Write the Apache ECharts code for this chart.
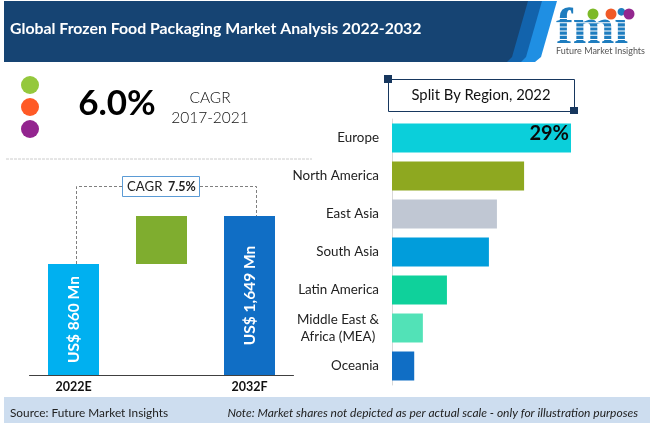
<!DOCTYPE html>
<html>
<head>
<meta charset="utf-8">
<style>html,body{margin:0;padding:0;background:#fff}#main{width:650px;height:423px}</style>
<script src="https://cdn.jsdelivr.net/npm/echarts@6/dist/echarts.min.js"></script>
</head>
<body>
<div id="main"></div>
<script>
// right panel
var regions = ['Europe', 'North America', 'East Asia', 'South Asia', 'Latin America', 'Middle East &\nAfrica (MEA)', 'Oceania'];
var regionShares = [29, 21.4, 17, 15.7, 8.9, 5, 3.6];
var regionColors = ['#0BCFDA', '#8EA820', '#C0C7D3', '#019DDB', '#0FD19B', '#52E2B7', '#106EC5'];
var regionLabels = ['29%', '', '', '', '', '', ''];
// left panel, the source bars are not to scale so these are the drawn heights
var years = ['2022E', '', '2032F'];
var barBase = [0, 860, 0];
var barValues = [860, 372, 1232];
var barColors = ['#00B0F0', '#7FAD2F', '#106EC5'];
var barLabels = ['US$ 860 Mn', '', 'US$ 1,649 Mn'];

var font = 'Lato, sans-serif';
var myChart = echarts.init(document.getElementById('main'), null, {renderer: 'canvas'});

var logoStripes = [];
for (var i = 0; i < 7; i++) {
    logoStripes.push({type: 'rect', z: 12, shape: {x: 555, y: 18 + i * 4.2, width: 90, height: 1}, style: {fill: '#fff'}});
}

myChart.setOption({
    animation: false,
    grid: [
        {left: 29.5, top: 216, width: 264, height: 159},
        {left: 392, top: 119, width: 179, height: 266}
    ],
    xAxis: [
        {
            gridIndex: 0, type: 'category', data: years,
            axisLine: {lineStyle: {color: '#404040', width: 1}},
            axisTick: {show: false},
            axisLabel: {color: '#111', fontFamily: font, fontWeight: 'bold', fontSize: 12.5, margin: 5, interval: 0}
        },
        {gridIndex: 1, type: 'value', min: 0, max: 29, show: false}
    ],
    yAxis: [
        {gridIndex: 0, type: 'value', min: 0, max: 1232, show: false},
        {
            gridIndex: 1, type: 'category', data: regions, inverse: true,
            axisLine: {lineStyle: {color: '#D9D9D9', width: 1}},
            axisTick: {lineStyle: {color: '#D9D9D9'}, length: 4},
            axisLabel: {
                color: '#222', fontFamily: font, fontSize: 13.4, margin: 13, lineHeight: 17, align: 'right', interval: 0,
                formatter: function (v) {
                    if (v.indexOf('\n') < 0) return v;
                    return v.split('\n').map(function (s) { return '{c|' + s + '}'; }).join('\n');
                },
                rich: {c: {width: 82, align: 'center', fontFamily: font, fontSize: 13.4, lineHeight: 17, color: '#222'}}
            }
        }
    ],
    series: [
        {
            type: 'bar', xAxisIndex: 0, yAxisIndex: 0, stack: 'a', barWidth: 51, silent: true,
            itemStyle: {color: 'transparent'},
            data: barBase
        },
        {
            type: 'bar', xAxisIndex: 0, yAxisIndex: 0, stack: 'a', barWidth: 51,
            data: barValues.map(function (v, i) {
                return {
                    value: v,
                    itemStyle: {color: barColors[i]},
                    label: {
                        show: barLabels[i] !== '', formatter: barLabels[i], rotate: 90,
                        position: 'inside', color: '#fff', fontFamily: font, fontWeight: 'bold', fontSize: 15.5
                    }
                };
            })
        },
        {
            type: 'bar', xAxisIndex: 1, yAxisIndex: 1, barWidth: 29,
            data: regionShares.map(function (v, i) {
                return {
                    value: v,
                    itemStyle: {color: regionColors[i]},
                    label: {
                        show: regionLabels[i] !== '', formatter: regionLabels[i], position: 'insideRight',
                        distance: 2, offset: [0, -4], color: '#0a0a0a', fontFamily: font, fontWeight: 'bold', fontSize: 20
                    }
                };
            })
        }
    ],
    graphic: [
        // header band
        {type: 'polygon', z: 2, shape: {points: [[4, 1], [528, 1], [512, 57], [507, 62], [4, 62]]}, style: {fill: '#164473'}},
        {type: 'polygon', z: 1, shape: {points: [[520, 1], [542, 1], [526, 57], [521, 62], [500, 62]]}, style: {fill: '#1263AC'}},
        {type: 'polygon', z: 0, shape: {points: [[535, 1], [557, 1], [541, 57], [535, 62], [515, 62]]}, style: {fill: '#1F8FE3'}},
        {type: 'text', z: 5, style: {x: 10, y: 29, text: 'Global Frozen Food Packaging Market Analysis 2022-2032', fill: '#fff', font: 'bold 15.85px ' + font, textVerticalAlign: 'middle'}},
        // logo
        {type: 'text', z: 5, style: {x: 556, y: 5, text: 'fmi', fill: '#1E7DBF', font: 'bold 50px "Liberation Serif", serif'}},
        {type: 'group', children: logoStripes},
        {type: 'circle', z: 13, shape: {cx: 593, cy: 14, r: 5.5}, style: {fill: '#7DB928'}},
        {type: 'circle', z: 13, shape: {cx: 611, cy: 14, r: 5.5}, style: {fill: '#F05A28'}},
        {type: 'circle', z: 13, shape: {cx: 629, cy: 14, r: 5.5}, style: {fill: '#93278F'}},
        {type: 'text', z: 13, style: {x: 556, y: 47, text: 'Future Market Insights', fill: '#555', font: '9px ' + font}},
        // CAGR block
        {type: 'circle', shape: {cx: 30, cy: 85, r: 9}, style: {fill: '#94C83D'}},
        {type: 'circle', shape: {cx: 30, cy: 107, r: 9}, style: {fill: '#FF5A26'}},
        {type: 'circle', shape: {cx: 30, cy: 129, r: 9}, style: {fill: '#93258F'}},
        {type: 'text', style: {x: 117, y: 104, text: '6.0%', fill: '#000', font: 'bold 35px ' + font, textAlign: 'center', textVerticalAlign: 'middle'}},
        {type: 'text', style: {x: 210, y: 98, text: 'CAGR', fill: '#111', font: '300 15.5px ' + font, textAlign: 'center', textVerticalAlign: 'middle'}},
        {type: 'text', style: {x: 210, y: 118, text: '2017-2021', fill: '#111', font: '300 15.5px ' + font, textAlign: 'center', textVerticalAlign: 'middle'}},
        {type: 'line', shape: {x1: 6, y1: 159, x2: 312, y2: 159}, style: {stroke: '#CCCCCC', lineWidth: 1, lineDash: [3, 1]}},
        // split box
        {type: 'rect', shape: {x: 388.5, y: 79.5, width: 186, height: 32}, style: {fill: '#fff', stroke: '#17375E', lineWidth: 1}},
        {type: 'rect', z: 3, shape: {x: 384, y: 75, width: 8, height: 8}, style: {fill: '#17375E'}},
        {type: 'rect', z: 3, shape: {x: 570, y: 107, width: 8, height: 7}, style: {fill: '#17375E'}},
        {type: 'text', z: 3, style: {x: 481, y: 95, text: 'Split By Region, 2022', fill: '#111', font: '14.8px ' + font, textAlign: 'center', textVerticalAlign: 'middle'}},
        // CAGR bracket
        {type: 'polyline', shape: {points: [[76.5, 264], [76.5, 186.5], [122, 186.5]]}, style: {stroke: '#7F7F7F', lineWidth: 1, lineDash: [3, 2], fill: null}},
        {type: 'polyline', shape: {points: [[200, 186.5], [256.5, 186.5], [256.5, 216]]}, style: {stroke: '#7F7F7F', lineWidth: 1, lineDash: [3, 2], fill: null}},
        {type: 'rect', shape: {x: 122.5, y: 176.5, width: 77, height: 20}, style: {fill: '#fff', stroke: '#5B9BD5', lineWidth: 1}},
        {type: 'text', z: 3, style: {x: 127, y: 187, text: 'CAGR', fill: '#222', font: '13.2px ' + font, textVerticalAlign: 'middle'}},
        {type: 'text', z: 3, style: {x: 168, y: 187, text: '7.5%', fill: '#222', font: 'bold 12.5px ' + font, textVerticalAlign: 'middle'}},
        // footer
        {type: 'rect', z: -1, shape: {x: 4, y: 397, width: 646, height: 26}, style: {fill: '#CDDDEF'}},
        {type: 'text', style: {x: 10, y: 413, text: 'Source: Future Market Insights', fill: '#222', font: '11.8px ' + font, textVerticalAlign: 'middle'}},
        {type: 'text', style: {x: 638, y: 413, text: 'Note: Market shares not depicted as per actual scale - only for illustration purposes', fill: '#222', font: 'italic 12px ' + font, textAlign: 'right', textVerticalAlign: 'middle'}}
    ]
});
</script>
</body>
</html>
